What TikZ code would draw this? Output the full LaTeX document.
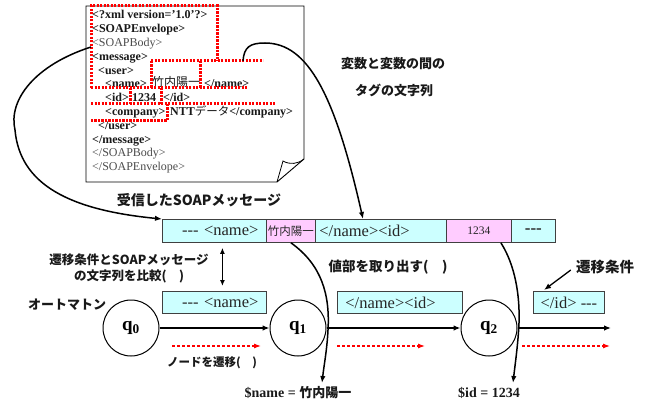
\documentclass[tikz,border=0pt]{standalone}
\usepackage{fontspec}
\setmainfont{Liberation Serif}
\newfontfamily\jp{Noto Sans CJK JP}
\usetikzlibrary{arrows.meta,calc}
\definecolor{cy}{HTML}{CCFFFF}
\definecolor{pk}{HTML}{FFCCFF}
\newcommand\dsh{\mbox{-}\mbox{-}\mbox{-}}
\tikzset{
  xb/.style={anchor=base west, inner sep=0, font=\fontsize{12}{12}\selectfont\bfseries, text=black!90},
  xr/.style={anchor=base west, inner sep=0, font=\fontsize{12}{12}\selectfont, text=black!70},
  xj/.style={anchor=base west, inner sep=0, font=\jp\fontsize{12}{12}\selectfont, text=black!90},
  reddot/.style={red, line width=3pt, dash pattern=on 2.2pt off 1.3pt},
  cbar/.style={draw=black!75, fill=cy, line width=0.8pt, inner ysep=0, minimum height=23, anchor=north west, font=\fontsize{16.5}{18}\selectfont, text=black!85},
  pbar/.style={draw=black!75, fill=pk, line width=0.8pt, inner sep=0, minimum height=23, anchor=north west, text=black!85},
  jlab/.style={font=\jp\bfseries\fontsize{13}{15}\selectfont, text=black!90, inner sep=0},
  st/.style={draw, circle, line width=1pt, minimum size=56, inner sep=0, font=\fontsize{19}{19}\selectfont\bfseries},
  arr/.style={line width=1.3pt, -{Latex[length=7pt,width=5.5pt]}},
  rarr/.style={red, line width=1.1pt, dashed, dash pattern=on 3pt off 2pt, -{Latex[length=7pt,width=5pt]}},
  curv/.style={line width=1.5pt, -{Latex[length=7pt,width=5.5pt]}},
  outl/.style={inner sep=0, font=\fontsize{14}{15}\selectfont\bfseries, text=black!90}
}
\begin{document}
\begin{tikzpicture}[x=1pt,y=-1pt]
\useasboundingbox (0,0) rectangle (650,401);
% document
\draw[line width=0.9pt, fill=white] (86,6) -- (304,6) -- (304,159) -- (277,182) -- (86,182) -- cycle;
\draw[line width=0.8pt] (277,182) -- (283,161) .. controls (290,165) and (298,164) .. (304,159);
% xml text
\node[xb] (x1) at (92,19) {<?xml version='1.0'?>};
\node[xb] (x2) at (92,32.8) {<SOAPEnvelope>};
\node[xr] (x3) at (92,46.6) {<SOAPBody>};
\node[xb] (x4) at (92,60.4) {<message>};
\node[xb] (x5) at (98,74.2) {<user>};
\node[xb] (x6a) at (105,88) {<name>};
\node[xj] (x6b) at (152,87) {竹内陽一};
\node[xb] (x6c) at (204,88) {</name>};
\node[xb] (x7a) at (105,101.8) {<id>};
\node[xb] (x7b) at (132,101.8) {1234};
\node[xb] (x7c) at (163,101.8) {</id>};
\node[xb] (x8a) at (105,115.6) {<company>};
\node[xb] (x8b) at (170,115.6) {NTT{\jp\mdseries\fontsize{11.5}{12}\selectfont データ}</company>};
\node[xb] (x9) at (98,129.4) {</user>};
\node[xb] (x10) at (92,143.2) {</message>};
\node[xr] (x11) at (92,157) {</SOAPBody>};
\node[xr] (x12) at (92,170.8) {</SOAPEnvelope>};
% red dotted regions
\draw[reddot] (91,88) -- (91,6) -- (217,6) -- (217,61);
\draw[reddot] (151,61) -- (263,61);
\draw[reddot] (151,61) -- (151,88);
\draw[reddot] (200,61) -- (200,88);
\draw[reddot] (91,88) -- (248,88);
\draw[reddot] (130,88) -- (130,104);
\draw[reddot] (161,88) -- (161,104);
\draw[reddot] (91,104) -- (276,104);
\draw[reddot] (167,104) -- (167,121) -- (91,121);
% labels
\node[jlab, font=\jp\bfseries\fontsize{14}{15}\selectfont] (lrecv) at (199,200) {受信したSOAPメッセージ};
\node[jlab] (ltag1) at (393,64) {変数と変数の間の};
\node[jlab] (ltag2) at (394,90) {タグの文字列};
\node[jlab, font=\jp\bfseries\fontsize{12.5}{15}\selectfont, align=center] (lcmp) at (129,268.5) {遷移条件とSOAPメッセージ\\[1pt]の文字列を比較(　)};
\node[jlab, font=\jp\bfseries\fontsize{13.5}{15}\selectfont] (lval) at (388,267) {値部を取り出す(　)};
\node[jlab, font=\jp\bfseries\fontsize{14.5}{15}\selectfont] (lcond) at (605,267) {遷移条件};
\node[jlab] (laut) at (67,305) {オートマトン};
\node[jlab, font=\jp\bfseries\fontsize{11.5}{15}\selectfont] (lnode) at (212,363) {ノードを遷移(　)};
% SOAP message bar
\node[cbar, text width=88, inner xsep=8, align=right] (m1) at (162,219) {\dsh{} <name>};
\node[pbar, minimum width=49, font=\jp\fontsize{11.5}{12}\selectfont] (v1) at (266,219) {竹内陽一};
\node[cbar, text width=123, inner xsep=4, align=left] (m2) at (315,219) {</name><id>};
\node[pbar, minimum width=65, font=\fontsize{11.5}{12}\selectfont] (v2) at (446,219) {1234};
\node[cbar, minimum width=44, inner xsep=0, font=\fontsize{17}{18}\selectfont\bfseries] (m3) at (511,219) {\dsh};
% automaton boxes
\node[cbar, text width=88, inner xsep=8, align=right, minimum height=22] (a1) at (162,291) {\dsh{} <name>};
\node[cbar, text width=109, inner xsep=8, align=left, minimum height=22] (a2) at (337,291) {</name><id>};
\node[cbar, minimum width=71, inner xsep=0, minimum height=22] (a3) at (533,291) {</id> \dsh};
% states
\node[st] (q0) at (131,328) {q\textsubscript{0}};
\node[st] (q1) at (298,328) {q\textsubscript{1}};
\node[st] (q2) at (489,328) {q\textsubscript{2}};
\coordinate (qend) at (611,328);
\draw[arr] (q0) -- (q1);
\draw[arr] (q1) -- (q2);
\draw[arr] (q2) -- (qend);
% red dashed arrows
\coordinate (r1a) at (172,346); \coordinate (r1b) at (261,346);
\coordinate (r2a) at (337,346); \coordinate (r2b) at (425,346);
\coordinate (r3a) at (522,346); \coordinate (r3b) at (610,346);
\draw[rarr] (r1a) -- (r1b);
\draw[rarr] (r2a) -- (r2b);
\draw[rarr] (r3a) -- (r3b);
% compare arrow
\draw[line width=1.3pt, {Latex[length=6pt,width=5pt]}-{Latex[length=6pt,width=5pt]}] ($(m1.south)+(8,5)$) -- ($(a1.north)+(8,-5)$);
% condition arrow
\draw[line width=1.3pt, -{Latex[length=7pt,width=5.5pt]}] ($(lcond.west)+(-5,3)$) -- ($(a3.north west)+(11,-1)$);
% curves from document
\coordinate (d1) at (91,47);
\coordinate (d2) at (243,61);
\draw[curv] (d1) .. controls (35,65) and (8,100) .. (15,130) .. controls (20,185) and (70,210) .. (m1.north west);
\draw[curv] (d2) .. controls (244,47) and (250,43) .. (265,43) .. controls (308,43) and (335,95) .. ($(m2.north west)+(48,0)$);
% outputs
\node[outl] (o1) at (298,393) {\$name = {\jp\fontsize{13}{14}\selectfont 竹内陽一}};
\node[outl] (o2) at (489,393) {\$id = 1234};
\coordinate (e1) at (322,383);
\coordinate (e2) at (513,383);
\draw[curv] (v1.south) .. controls (322,265) and (330,295) .. (328,330) .. controls (327,350) and (324,365) .. (e1);
\draw[curv] ($(v2.south)+(22,0)$) .. controls (515,265) and (520,295) .. (519,323) .. controls (518,345) and (515,365) .. (e2);
\end{tikzpicture}
\end{document}
